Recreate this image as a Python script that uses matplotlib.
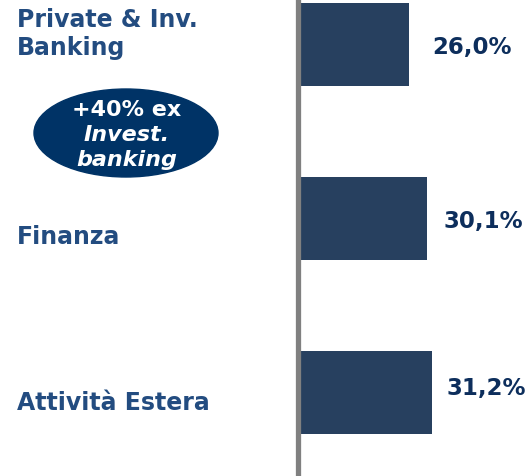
import matplotlib.pyplot as plt
from matplotlib.patches import Ellipse

# dati
categorie = ["Private & Inv.\nBanking", "Finanza", "Attività Estera"]
valori = [26.0, 30.1, 31.2]
etichette = ["26,0%", "30,1%", "31,2%"]

col_barre = "#27405F"
col_label = "#234C80"
col_valori = "#0D2E5C"
col_ellisse = "#003366"

fig = plt.figure(figsize=(5.27, 4.77), dpi=100)

# asse principale (barre orizzontali)
ax = fig.add_axes([298 / 527, 0, 229 / 527, 1])
pos = range(len(valori))
ax.barh(pos, valori, height=0.477, color=col_barre, zorder=1)
ax.set_xlim(0, 229 / 4.28)
ax.set_ylim(2.481, -0.261)
ax.axis("off")
ax.axvline(0, color="#808080", lw=3.8, zorder=3, clip_on=False)

scarto = [5.4, 3.8, 3.5]
dy = [0.01, 0.01, -0.025]
for i, (v, t) in enumerate(zip(valori, etichette)):
    ax.text(v + scarto[i], i + dy[i], t, ha="left", va="center", fontsize=16.5,
            fontweight="bold", color=col_valori)

# pannello di sinistra: etichette e ovale
ov = fig.add_axes([0, 0, 298 / 527, 1])
ov.set_xlim(0, 298)
ov.set_ylim(477, 0)
ov.axis("off")

ov.text(17, 34, categorie[0], ha="left", va="center", fontsize=17,
        fontweight="bold", color=col_label, linespacing=1.2)
ov.text(17, 237, categorie[1], ha="left", va="center", fontsize=17,
        fontweight="bold", color=col_label)
ov.text(17, 403, categorie[2], ha="left", va="center", fontsize=17,
        fontweight="bold", color=col_label)

ov.add_patch(Ellipse((126, 134), 184, 88, color=col_ellisse))
ov.text(127, 110, "+40% ex", ha="center", va="center", fontsize=16,
        fontweight="bold", color="white")
ov.text(127, 135, "Invest.", ha="center", va="center", fontsize=16,
        fontweight="bold", style="italic", color="white")
ov.text(127, 160, "banking", ha="center", va="center", fontsize=16,
        fontweight="bold", style="italic", color="white")

plt.savefig("out.png", dpi=100)
plt.close()
